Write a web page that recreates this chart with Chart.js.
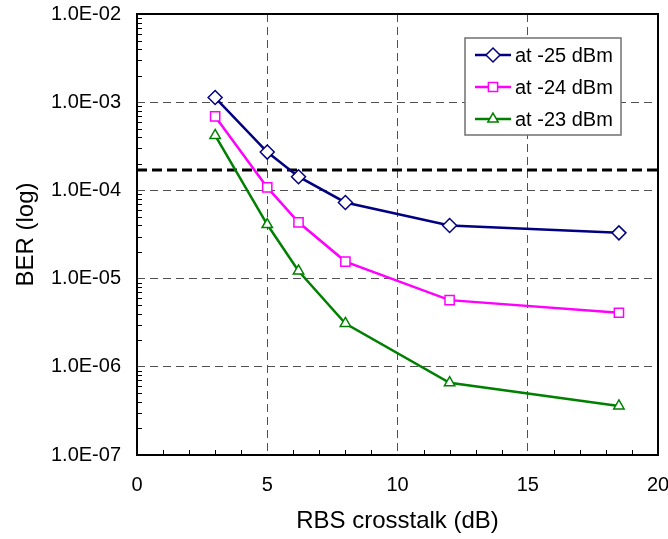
<!DOCTYPE html>
<html>
<head>
<meta charset="utf-8">
<script src="https://cdn.jsdelivr.net/npm/chart.js@4.4.1/dist/chart.umd.min.js"></script>
<style>
  body { margin: 0; background: #fff; }
  canvas { display: block; }
</style>
</head>
<body>
<canvas id="ber-chart" width="668" height="539"></canvas>
<script>
// RBS crosstalk in dB
var crosstalk = [3, 5, 6.2, 8, 12, 18.5];
var berMinus25 = [1.13e-3, 2.72e-4, 1.43e-4, 7.3e-5, 4.0e-5, 3.3e-5];
var berMinus24 = [6.9e-4, 1.08e-4, 4.35e-5, 1.56e-5, 5.7e-6, 4.1e-6];
var berMinus23 = [4.2e-4, 4.1e-5, 1.22e-5, 3.1e-6, 6.6e-7, 3.6e-7];
var fecLimit = 1.7e-4;

var xTicks = [0, 5, 10, 15, 20];
var yTicks = [1e-7, 1e-6, 1e-5, 1e-4, 1e-3, 1e-2];
var yTickLabels = ['1.0E-07', '1.0E-06', '1.0E-05', '1.0E-04', '1.0E-03', '1.0E-02'];

Chart.defaults.font.family = '"Liberation Sans", Arial, sans-serif';
Chart.defaults.color = '#000';

function points(ys) {
    return crosstalk.map(function (x, i) { return { x: x, y: ys[i] }; });
}

// frame, minor tick marks inside the plot box
var frameTicks = {
    id: 'frameTicks',
    afterDatasetsDraw(chart) {
        var ctx = chart.ctx, a = chart.chartArea, x = chart.scales.x, y = chart.scales.y;
        ctx.save();
        ctx.strokeStyle = '#000';
        ctx.lineWidth = 1;
        ctx.beginPath();
        for (var e = -7; e < -2; e++) {
            for (var m = 2; m <= 9; m++) {
                var py = Math.round(y.getPixelForValue(m * Math.pow(10, e))) + 0.5;
                ctx.moveTo(a.left, py);
                ctx.lineTo(a.left + 5, py);
            }
        }
        for (var v = 1; v < 20; v++) {
            if (v % 5 === 0) continue;
            var px = Math.round(x.getPixelForValue(v)) + 0.5;
            ctx.moveTo(px, a.bottom);
            ctx.lineTo(px, a.bottom - 5);
        }
        ctx.stroke();
        ctx.lineWidth = 2;
        ctx.strokeRect(a.left, a.top, a.right - a.left, a.bottom - a.top);
        ctx.restore();
    }
};

// boxed legend, line + marker sample like the original
var boxLegend = {
    id: 'boxLegend',
    afterDraw(chart) {
        var ctx = chart.ctx;
        var x0 = 465, y0 = 38, w = 156, h = 97;
        ctx.save();
        ctx.fillStyle = '#fff';
        ctx.fillRect(x0, y0, w, h);
        ctx.strokeStyle = '#707070';
        ctx.lineWidth = 1.5;
        ctx.strokeRect(x0, y0, w, h);
        chart.data.datasets.slice(0, 3).forEach(function (ds, i) {
            var cy = 55 + i * 32;
            ctx.strokeStyle = ds.borderColor;
            ctx.lineWidth = ds.borderWidth;
            ctx.beginPath();
            ctx.moveTo(475, cy);
            ctx.lineTo(511, cy);
            ctx.stroke();
            ctx.fillStyle = ds.pointBackgroundColor;
            ctx.strokeStyle = ds.pointBorderColor;
            ctx.lineWidth = ds.pointBorderWidth;
            Chart.helpers.drawPoint(ctx, {
                pointStyle: ds.pointStyle,
                radius: ds.pointRadius,
                borderWidth: ds.pointBorderWidth,
                rotation: 0
            }, 493, cy);
            ctx.fillStyle = '#000';
            ctx.font = '20px "Liberation Sans", Arial, sans-serif';
            ctx.textBaseline = 'middle';
            ctx.textAlign = 'left';
            ctx.fillText(ds.label, 515, cy + 1);
        });
        ctx.restore();
    }
};

var myChart = new Chart(document.getElementById('ber-chart').getContext('2d'), {
    type: 'line',
    data: {
        datasets: [{
            label: 'at -25 dBm',
            data: points(berMinus25),
            borderColor: '#000080',
            borderWidth: 2.5,
            pointStyle: 'rectRot',
            pointRadius: 7,
            pointBorderWidth: 1.5,
            pointBorderColor: '#000080',
            pointBackgroundColor: '#fff'
        }, {
            label: 'at -24 dBm',
            data: points(berMinus24),
            borderColor: '#ff00ff',
            borderWidth: 2.5,
            pointStyle: 'rect',
            pointRadius: 6.5,
            pointBorderWidth: 1.5,
            pointBorderColor: '#ff00ff',
            pointBackgroundColor: '#fff'
        }, {
            label: 'at -23 dBm',
            data: points(berMinus23),
            borderColor: '#008000',
            borderWidth: 2.5,
            pointStyle: 'triangle',
            pointRadius: 6,
            pointBorderWidth: 1.5,
            pointBorderColor: '#008000',
            pointBackgroundColor: '#fff'
        }, {
            label: 'limit',
            data: [{ x: 0, y: fecLimit }, { x: 20, y: fecLimit }],
            borderColor: '#000',
            borderWidth: 3,
            borderDash: [10, 5],
            pointRadius: 0
        }]
    },
    options: {
        responsive: false,
        animation: false,
        layout: { padding: { left: 0, right: 10, top: 14, bottom: 0 } },
        plugins: {
            legend: { display: false },
            tooltip: { enabled: false }
        },
        scales: {
            x: {
                type: 'linear',
                min: 0,
                max: 20,
                afterBuildTicks: function (s) { s.ticks = xTicks.map(function (v) { return { value: v }; }); },
                afterFit: function (s) {
                    s.height = 84;
                    s.paddingLeft = 0;
                    s.paddingRight = 0;
                },
                ticks: { padding: 18, font: { size: 20 } },
                grid: { color: '#505050', lineWidth: 1, drawTicks: false },
                border: { display: false, dash: [8, 5] },
                title: { display: true, text: 'RBS crosstalk (dB)', font: { size: 24 }, padding: { top: 0, bottom: 3 } }
            },
            y: {
                type: 'logarithmic',
                min: 1e-7,
                max: 1e-2,
                afterBuildTicks: function (s) { s.ticks = yTicks.map(function (v) { return { value: v }; }); },
                afterFit: function (s) {
                    s.width = 137;
                    s.paddingTop = 0;
                    s.paddingBottom = 0;
                },
                ticks: {
                    padding: 16,
                    font: { size: 20 },
                    callback: function (v, i) { return yTickLabels[i]; }
                },
                grid: { color: '#505050', lineWidth: 1, drawTicks: false },
                border: { display: false, dash: [8, 5] },
                title: { display: true, text: 'BER (log)', font: { size: 24 }, padding: { top: 12, bottom: 0 } }
            }
        }
    },
    plugins: [frameTicks, boxLegend]
});
</script>
</body>
</html>
